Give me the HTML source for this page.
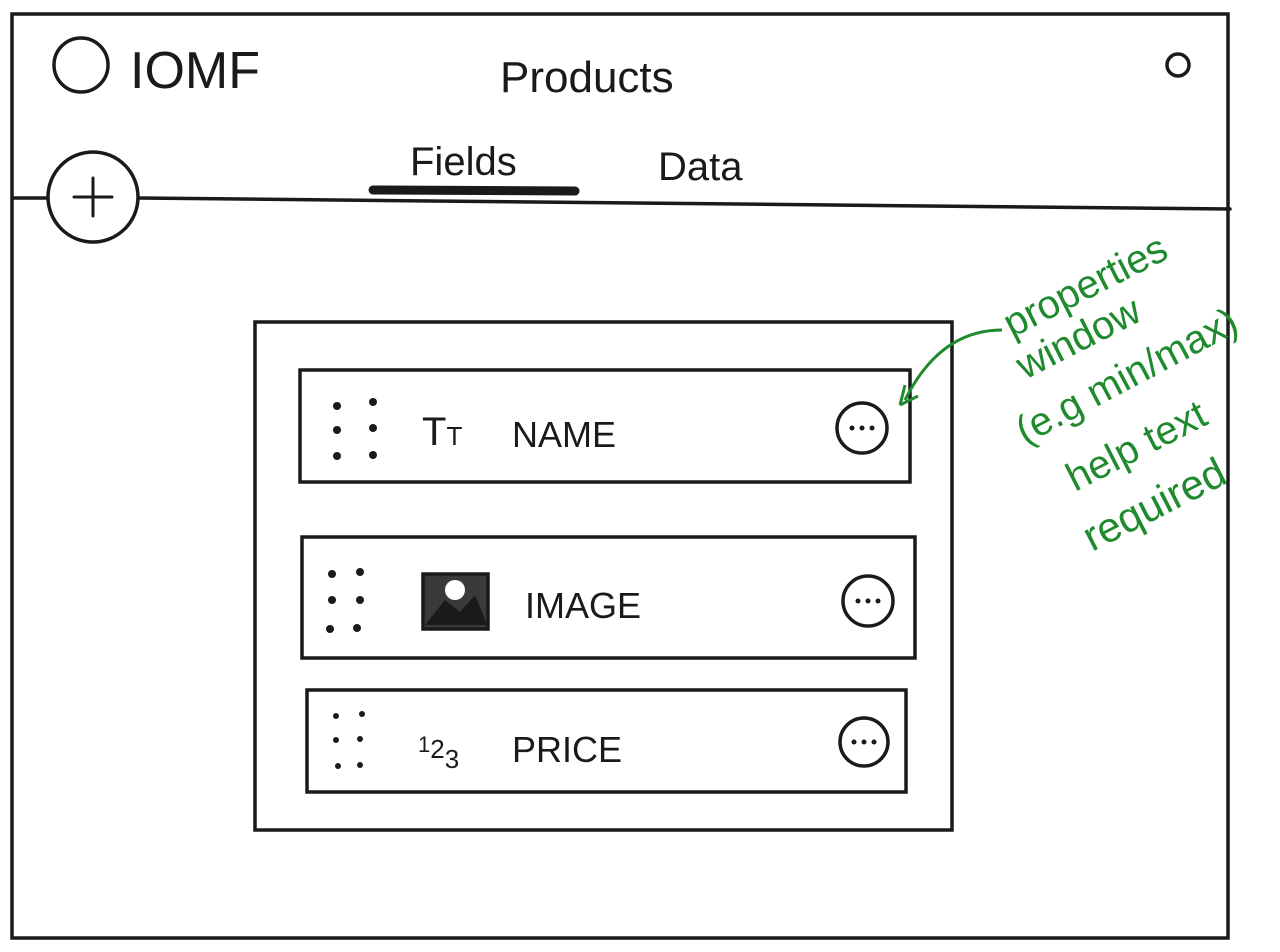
<!DOCTYPE html>
<html><head><meta charset="utf-8"><style>
html,body{margin:0;padding:0;background:#fff;}
svg{display:block}
text{font-family:"Liberation Sans",sans-serif;fill:#1a1a1a}
.g{fill:#1f8a2e}
</style></head><body>
<svg width="1280" height="952" viewBox="0 0 1280 952" xmlns="http://www.w3.org/2000/svg">
<g stroke="#1a1a1a" stroke-width="3.5" fill="none" stroke-linecap="round">
<rect x="12" y="14" width="1216" height="924"/>
<circle cx="81" cy="65" r="27"/>
<path d="M14 198 L48 198 M138 198 L1230 209"/>
<circle cx="93" cy="197" r="45" fill="#fff"/>
<path d="M93 178 V216 M74 197 H112" stroke-width="3"/>
<path d="M373 190 L575 191" stroke-width="9"/>
<circle cx="1178" cy="65" r="11"/>
<rect x="255" y="322" width="697" height="508"/>
<rect x="300" y="370" width="610" height="112"/>
<rect x="302" y="537" width="613" height="121"/>
<rect x="307" y="690" width="599" height="102"/>
<circle cx="862" cy="428" r="25"/>
<circle cx="868" cy="601" r="25"/>
<circle cx="864" cy="742" r="24"/>
<rect x="423" y="574" width="65" height="55" fill="#3a3a3a"/>
</g>
<g fill="#1a1a1a">
<circle cx="337" cy="406" r="4"/><circle cx="373" cy="402" r="4"/>
<circle cx="337" cy="430" r="4"/><circle cx="373" cy="428" r="4"/>
<circle cx="337" cy="456" r="4"/><circle cx="373" cy="455" r="4"/>
<circle cx="332" cy="574" r="4"/><circle cx="360" cy="572" r="4"/>
<circle cx="332" cy="600" r="4"/><circle cx="360" cy="600" r="4"/>
<circle cx="330" cy="629" r="4"/><circle cx="357" cy="628" r="4"/>
<circle cx="336" cy="716" r="3"/><circle cx="362" cy="714" r="3"/>
<circle cx="336" cy="740" r="3"/><circle cx="360" cy="739" r="3"/>
<circle cx="338" cy="766" r="3"/><circle cx="360" cy="765" r="3"/>
<circle cx="852" cy="428" r="2.5"/><circle cx="862" cy="428" r="2.5"/><circle cx="872" cy="428" r="2.5"/>
<circle cx="858" cy="601" r="2.5"/><circle cx="868" cy="601" r="2.5"/><circle cx="878" cy="601" r="2.5"/>
<circle cx="854" cy="742" r="2.5"/><circle cx="864" cy="742" r="2.5"/><circle cx="874" cy="742" r="2.5"/>
</g>
<circle cx="455" cy="590" r="10" fill="#fff"/>
<path d="M425 625 L445 600 L460 612 L475 595 L487 625 Z" fill="#1a1a1a"/>
<text x="130" y="88" font-size="52">IOMF</text>
<text x="500" y="92" font-size="44">Products</text>
<text x="410" y="175" font-size="40">Fields</text>
<text x="658" y="180" font-size="40">Data</text>
<text x="422" y="445" font-size="40">T<tspan font-size="26">T</tspan></text>
<text x="512" y="447" font-size="36">NAME</text>
<text x="525" y="618" font-size="36">IMAGE</text>
<text x="418" y="752" font-size="22">1<tspan font-size="26" dy="6">2</tspan><tspan dy="10" font-size="26">3</tspan></text>
<text x="512" y="762" font-size="36">PRICE</text>
<path d="M905 400 Q940 330 1002 330" stroke="#1f8a2e" stroke-width="3" fill="none"/>
<path d="M900 405 L905 385 M900 405 L918 396" stroke="#1f8a2e" stroke-width="3" fill="none"/>
<text class="g" x="1012" y="338" font-size="40" transform="rotate(-27 1012 338)">properties</text>
<text class="g" x="1025" y="380" font-size="40" transform="rotate(-27 1025 380)">window</text>
<text class="g" x="1025" y="445" font-size="40" transform="rotate(-28 1025 445)">(e.g min/max)</text>
<text class="g" x="1075" y="492" font-size="40" transform="rotate(-27 1075 492)">help text</text>
<text class="g" x="1092" y="552" font-size="42" transform="rotate(-27 1092 552)">required</text>
</svg>
</body></html>
